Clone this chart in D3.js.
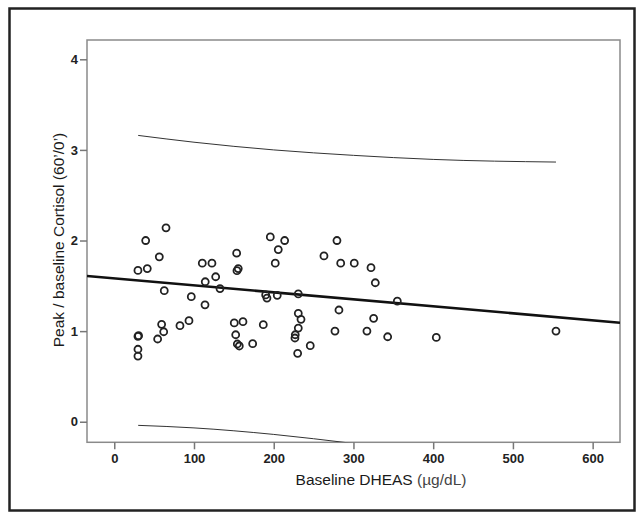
<!DOCTYPE html>
<html>
<head>
<meta charset="utf-8">
<script src="https://cdn.jsdelivr.net/npm/d3@7"></script>
<style>
  body { margin: 0; background: #fff; }
  svg { display: block; }
</style>
</head>
<body>
<div id="chart"></div>
<script>
// values
var dheas = [29.7, 29.7, 30.5, 29.7, 29.7, 39.4, 41.4, 54.4, 56.5, 59.4, 62, 62.7, 64.9, 82.4, 93.7, 96.6,
  110.4, 113.8, 114.1, 122.5, 127.2, 132.6, 150.5, 152.3, 153.5, 153.9, 155.5, 154.3, 156.8, 161.4, 173.6,
  186.9, 189.9, 191.5, 195.7, 201.9, 204.4, 205.7, 213.7, 226.6, 227, 230, 230.8, 230.8, 230.8, 234.2, 245.8,
  263, 276.8, 279.3, 281.8, 284, 301, 316.9, 322, 325.3, 327.4, 342.9, 355, 403.9, 554];
var cortRatio = [1.67, 0.943, 0.95, 0.80, 0.725, 2.00, 1.69, 0.913, 1.82, 1.075, 0.993, 1.446, 2.14, 1.06, 1.115, 1.38,
  1.75, 1.29, 1.545, 1.75, 1.60, 1.47, 1.09, 0.96, 1.86, 1.667, 1.69, 0.858, 0.836, 1.104, 0.861,
  1.071, 1.40, 1.365, 2.04, 1.75, 1.395, 1.90, 2.00, 0.924, 0.96, 0.755, 1.41, 1.196, 1.034, 1.13, 0.839,
  1.83, 1.00, 2.00, 1.233, 1.75, 1.75, 1.00, 1.70, 1.141, 1.534, 0.938, 1.33, 0.931, 1.00];

// fitted line (intercept, slope)
var fitIntercept = 1.582;
var fitSlope = -0.000771;

// prediction interval, read at a few x positions
var bandX = [30, 100, 200, 300, 400, 554];
var bandUpper = [3.16, 3.085, 3.0, 2.94, 2.895, 2.866];
var bandLower = [-0.04, -0.068, -0.14, -0.24, -0.35, -0.556];

var xTicks = [0, 100, 200, 300, 400, 500, 600];
var yTicks = [0, 1, 2, 3, 4];

var W = 642, H = 519;
var svg = d3.select('#chart').append('svg').attr('width', W).attr('height', H);

// outer frame
svg.append('rect')
  .attr('x', 9.5).attr('y', 8.5).attr('width', 625).attr('height', 502)
  .attr('fill', 'none').attr('stroke', '#222').attr('stroke-width', 2.5);

var plot = { left: 87, right: 620, top: 40, bottom: 442.3 };
var x = d3.scaleLinear().domain([-34.2, 634.3]).range([plot.left, plot.right]);
var y = d3.scaleLinear().domain([-0.227, 4.213]).range([plot.bottom, plot.top]);

svg.append('defs').append('clipPath').attr('id', 'clip')
  .append('rect').attr('x', plot.left).attr('y', plot.top)
  .attr('width', plot.right - plot.left).attr('height', plot.bottom - plot.top);

// plot frame
svg.append('rect')
  .attr('x', plot.left).attr('y', plot.top)
  .attr('width', plot.right - plot.left).attr('height', plot.bottom - plot.top)
  .attr('fill', 'none').attr('stroke', '#8a8a8a').attr('stroke-width', 1.5);

var xAxis = svg.append('g')
  .attr('transform', 'translate(0,' + plot.bottom + ')')
  .call(d3.axisBottom(x).tickValues(xTicks).tickSize(7).tickPadding(4).tickFormat(d3.format('d')));
var yAxis = svg.append('g')
  .attr('transform', 'translate(' + plot.left + ',0)')
  .call(d3.axisLeft(y).tickValues(yTicks).tickSize(7).tickPadding(2).tickFormat(d3.format('d')));
[xAxis, yAxis].forEach(function (a) {
  a.select('.domain').remove();
  a.selectAll('.tick line').attr('stroke', '#777').attr('stroke-width', 1.5);
  a.selectAll('.tick text')
    .attr('font-family', '"Liberation Sans Narrow", "Arial Narrow", "Liberation Sans", sans-serif')
    .attr('font-weight', 'bold').attr('font-size', 13).attr('fill', '#222');
});

var g = svg.append('g').attr('clip-path', 'url(#clip)');

// prediction band
var band = d3.line().x(function (d) { return x(d[0]); }).y(function (d) { return y(d[1]); }).curve(d3.curveMonotoneX);
[bandUpper, bandLower].forEach(function (vals) {
  g.append('path')
    .attr('d', band(bandX.map(function (v, i) { return [v, vals[i]]; })))
    .attr('fill', 'none').attr('stroke', '#333').attr('stroke-width', 1);
});

// fit line
var xd = x.domain();
g.append('line')
  .attr('x1', x(xd[0])).attr('y1', y(fitIntercept + fitSlope * xd[0]))
  .attr('x2', x(xd[1])).attr('y2', y(fitIntercept + fitSlope * xd[1]))
  .attr('stroke', '#111').attr('stroke-width', 2.6);

// points
g.selectAll('circle.pt')
  .data(dheas.map(function (v, i) { return [v, cortRatio[i]]; }))
  .enter().append('circle')
  .attr('class', 'pt')
  .attr('cx', function (d) { return x(d[0]); })
  .attr('cy', function (d) { return y(d[1]); })
  .attr('r', 3.5)
  .attr('fill', 'none').attr('stroke', '#222').attr('stroke-width', 1.8);

// axis titles
svg.append('text')
  .attr('x', 381).attr('y', 485)
  .attr('text-anchor', 'middle')
  .style('font-family', '"Liberation Sans", Arial, sans-serif').style('font-size', '15.5px').style('fill', '#1a1a1a')
  .text('Baseline DHEAS ')
  .append('tspan').style('fill', '#444').text('(µg/dL)');

svg.append('text')
  .attr('transform', 'translate(64,240) rotate(-90)')
  .attr('text-anchor', 'middle')
  .style('font-family', '"Liberation Sans", Arial, sans-serif').style('font-size', '15.5px').style('fill', '#1a1a1a')
  .text('Peak / baseline Cortisol (60’/0’)');
</script>
</body>
</html>
